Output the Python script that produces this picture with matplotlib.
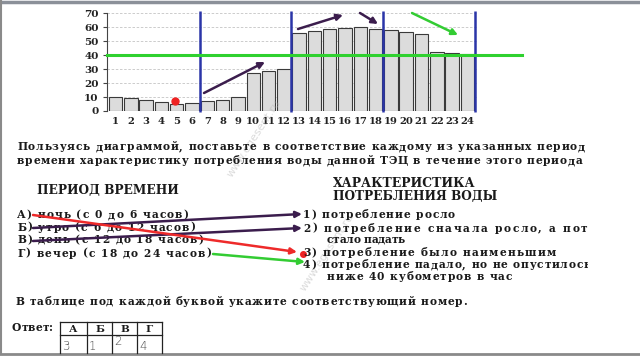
import matplotlib
matplotlib.use("Agg")
import matplotlib.pyplot as plt
from matplotlib.patches import Rectangle

# почасовое потребление воды ТЭЦ (куб. м в час)
hours = list(range(1, 25))
water = [10, 9, 8, 6.5, 5, 5.8, 7.2, 8, 9.7, 27, 29, 30,
         56, 57, 58.5, 59.5, 60, 59, 58, 56.5, 55.5, 42.5, 41.5, 40.5]
yticks = list(range(0, 80, 10))
period_bounds = [6.5, 12.5, 18.5, 24.5]
threshold = 40

task_lines = [
    "Пользуясь диаграммой, поставьте в соответствие каждому из указанных периодов",
    "времени характеристику потребления воды данной ТЭЦ в течение этого периода",
]
periods = [
    "А) ночь (с 0 до 6 часов)",
    "Б) утро (с 6 до 12 часов)",
    "В) день (с 12 до 18 часов)",
    "Г) вечер (с 18 до 24 часов)",
]
traits = [
    "1) потребление росло",
    "2) потребление сначала росло, а потом",
    "стало падать",
    "3) потребление было наименьшим",
    "4) потребление падало, но не опустилось",
    "ниже 40 кубометров в час",
]
letters = ["А", "Б", "В", "Г"]
answers = ["3", "1", "2", "4"]

SERIF = "DejaVu Serif"
BODY = 7.7

fig = plt.figure(figsize=(6.4, 3.6), dpi=100)
fig.patch.set_facecolor("white")

# --- диаграмма ---
ax = fig.add_axes([107 / 640, 1 - 111 / 360, (476.6 - 107) / 640, (111 - 13.3) / 360])
ax.bar(hours, water, width=0.88, color="#dcdcdc", edgecolor="#3a3a3a", linewidth=0.8, zorder=2)
ax.set_xlim(0.44, 24.6)
ax.set_ylim(0, 70)
ax.set_yticks(yticks)
ax.set_xticks(hours)
ax.yaxis.grid(True, linestyle=(0, (3, 2)), color="#c4c4c4", linewidth=0.6, zorder=0)
for s in ["top", "right", "bottom"]:
    ax.spines[s].set_visible(False)
ax.spines["left"].set_color("#444444")
ax.tick_params(axis="y", length=3, color="#444444", pad=3, labelsize=7.5)
ax.tick_params(axis="x", length=0, pad=4, labelsize=7.2)
for lab in ax.get_xticklabels() + ax.get_yticklabels():
    lab.set_fontfamily(SERIF)
    lab.set_fontweight("bold")
    lab.set_color("#222222")

ax.vlines(period_bounds, -0.5, 71.3, color="#2b35a8", linewidth=1.8, zorder=4, clip_on=False)
ax.plot([0.44, 27.55], [threshold, threshold], color="#2fd12f", linewidth=2.2, zorder=5, clip_on=False)

# --- слой в пикселях для текста и пометок ---
ov = fig.add_axes([0, 0, 1, 1])
ov.set_xlim(0, 640)
ov.set_ylim(360, 0)
ov.axis("off")
ov.patch.set_alpha(0)

r = fig.canvas.get_renderer()


def txt(x, y, s, size=BODY, bold=True, **kw):
    return ov.text(x, y, s, fontsize=size, fontfamily=SERIF,
                   fontweight="bold" if bold else "normal", va="baseline", ha="left",
                   color=kw.pop("color", "#1a1a1a"), **kw)


probe = txt(0, 0, "нн")
w_nn = probe.get_window_extent(renderer=r).width
probe.set_text("н н")
SPACE = probe.get_window_extent(renderer=r).width - w_nn
probe.remove()


def char_w(c, size):
    if c == " ":
        return SPACE * size / BODY
    t = txt(0, 0, c, size)
    w = t.get_window_extent(renderer=r).width
    t.remove()
    return w


def put(x, y, s, width=None, size=BODY, clip=None, last_start=None):
    """строка вразрядку: лишнее место делится между всеми буквами"""
    ws = [char_w(c, size) for c in s]
    if last_start is not None:
        k = s.rfind(" ") + 1
        extra = (last_start - x - sum(ws[:k])) / k
    else:
        extra = (width - sum(ws)) / (len(s) - 1)
    extra = max(extra, -0.2)
    cx = x
    for c, w in zip(s, ws):
        if c != " ":
            t = txt(cx, y, c, size)
            if clip:
                t.set_clip_on(True)
                t.set_clip_path(Rectangle((0, 0), clip, 360, transform=ov.transData))
        cx += w + extra


def head(x, y, s, width):
    t = txt(x, y, s, 8)
    w = t.get_window_extent(renderer=r).width
    t.set_fontsize(8 * width / w)
    return t


# рамка
ov.plot([0, 640], [2.2, 2.2], color="#8b9099", linewidth=2.5)
ov.plot([1, 1], [0, 353], color="#8a8a8a", linewidth=1.5)
ov.plot([0, 640], [353.5, 353.5], color="#8a8a8a", linewidth=2)

# водяные знаки
for wx, wy in [(232, 178), (305, 292)]:
    ov.text(wx, wy, "www.egesent.ru", rotation=57, fontsize=8, color="#b0b0b0", alpha=0.45,
            fontfamily="DejaVu Sans", ha="left", va="baseline", rotation_mode="anchor")

put(17, 150, task_lines[0], clip=586, last_start=537)
put(17, 164, task_lines[1], clip=586, last_start=527)

head(37, 194, "ПЕРИОД ВРЕМЕНИ", 140)
head(333, 186.7, "ХАРАКТЕРИСТИКА", 142)
head(333, 200, "ПОТРЕБЛЕНИЯ ВОДЫ", 164)

left_base = [218.3, 230.7, 243, 256.7]
left_w = [171, 178, 186, 194]
for s, yb, w in zip(periods, left_base, left_w):
    put(17, yb, s, w)

put(303, 218.3, traits[0], 152)
put(303, 231.7, traits[1], clip=588, last_start=563)
put(327, 242.7, traits[2], 73)
put(303, 256, traits[3], 253)
put(303, 268.3, traits[4], clip=588, last_start=513)
put(327, 280, traits[5], 185)

put(15, 305, "В таблице под каждой буквой укажите соответствующий номер.", 452)

# таблица ответа
put(12, 331, "Ответ:", 41)
cols = [60, 87, 112, 137, 162]
ov.plot([cols[0], cols[-1]], [322, 322], color="#222222", linewidth=0.9)
ov.plot([cols[0], cols[-1]], [335, 335], color="#222222", linewidth=0.9)
for cx in cols:
    ov.plot([cx, cx], [322, 353], color="#222222", linewidth=0.9)
for i, (l, a) in enumerate(zip(letters, answers)):
    ov.text((cols[i] + cols[i + 1]) / 2, 332, l, fontsize=7.5, fontfamily=SERIF,
            fontweight="bold", ha="center", va="baseline", color="#1a1a1a")
    ov.text(cols[i] + 2, 350 - (5 if a == "2" else 0), a, fontsize=8.5, fontfamily="DejaVu Sans",
            fontweight="light", ha="left", va="baseline", color="#4a4a4a")

# пометки на диаграмме
arrow = dict(arrowstyle="-|>", lw=1.8, mutation_scale=9, shrinkA=0, shrinkB=0)
purple = "#3b1d4d"
for (x0, y0), (x1, y1) in [((204, 93), (265, 62)), ((298, 29), (343, 15)), ((360, 13), (378, 24))]:
    ov.annotate("", xy=(x1, y1), xytext=(x0, y0), arrowprops=dict(arrow, color=purple))
ov.annotate("", xy=(458, 35), xytext=(412, 13), arrowprops=dict(arrow, color="#33cc33"))
ov.plot([175], [100.5], "o", color="#ee2222", markersize=5)

# стрелки соответствия
ov.annotate("", xy=(302, 214), xytext=(33, 228), arrowprops=dict(arrow, color=purple))
ov.annotate("", xy=(302, 228), xytext=(33, 241), arrowprops=dict(arrow, color=purple))
ov.annotate("", xy=(297, 252), xytext=(33, 215), arrowprops=dict(arrow, color="#ee2a2a"))
ov.annotate("", xy=(305, 262), xytext=(213, 254), arrowprops=dict(arrow, color="#33cc33"))
ov.plot([303], [254], "o", color="#ee2222", markersize=4)

fig.savefig("out.png", dpi=100)
